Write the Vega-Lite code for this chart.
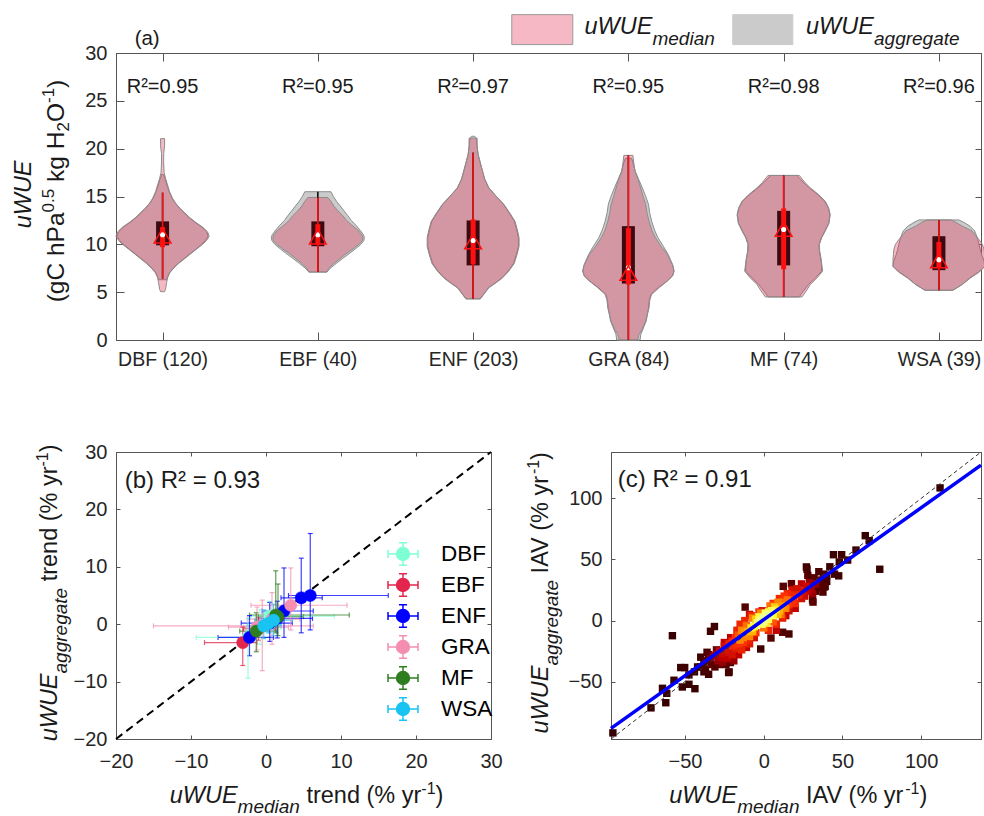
{
"$schema":"https://vega.github.io/schema/vega-lite/v6.json",
"background":"white",
"padding":{"left":11,"top":13,"right":0,"bottom":0},
"bounds":"flush",
"spacing":112,
"config":{
 "view":{"stroke":"#555555","strokeWidth":1},
 "axis":{"grid":false,"domainColor":"#555555","domainWidth":1,"tickColor":"#555555","tickWidth":1,"labelColor":"#262626","labelFont":"Liberation Sans","labelFontSize":20,"labelFlush":false,"labelOverlap":false,"labelBound":false},
 "text":{"font":"Liberation Sans","color":"#1a1a1a"}
},
"datasets":{
 "violin":[
  {"g":"DBF","s":"med","v":5.05,"w":0.013},{"g":"DBF","s":"med","v":5.3,"w":0.019},{"g":"DBF","s":"med","v":6.0,"w":0.026},{"g":"DBF","s":"med","v":6.5,"w":0.032},{"g":"DBF","s":"med","v":7.0,"w":0.045},{"g":"DBF","s":"med","v":7.5,"w":0.071},{"g":"DBF","s":"med","v":8.0,"w":0.103},{"g":"DBF","s":"med","v":8.5,"w":0.142},{"g":"DBF","s":"med","v":9.0,"w":0.18},{"g":"DBF","s":"med","v":9.5,"w":0.219},{"g":"DBF","s":"med","v":10.0,"w":0.258},{"g":"DBF","s":"med","v":10.4,"w":0.283},{"g":"DBF","s":"med","v":10.85,"w":0.3},{"g":"DBF","s":"med","v":11.3,"w":0.29},{"g":"DBF","s":"med","v":11.8,"w":0.258},{"g":"DBF","s":"med","v":12.3,"w":0.213},{"g":"DBF","s":"med","v":12.8,"w":0.174},{"g":"DBF","s":"med","v":13.3,"w":0.142},{"g":"DBF","s":"med","v":13.8,"w":0.11},{"g":"DBF","s":"med","v":14.3,"w":0.084},{"g":"DBF","s":"med","v":14.8,"w":0.064},{"g":"DBF","s":"med","v":15.5,"w":0.045},{"g":"DBF","s":"med","v":16.2,"w":0.032},{"g":"DBF","s":"med","v":16.9,"w":0.019},{"g":"DBF","s":"med","v":17.5,"w":0.01},{"g":"DBF","s":"med","v":18.5,"w":0.007},{"g":"DBF","s":"med","v":19.5,"w":0.007},{"g":"DBF","s":"med","v":20.3,"w":0.013},{"g":"DBF","s":"med","v":21.05,"w":0.013},
  {"g":"DBF","s":"agg","v":6.3,"w":0.026},{"g":"DBF","s":"agg","v":6.6,"w":0.032},{"g":"DBF","s":"agg","v":7.0,"w":0.043},{"g":"DBF","s":"agg","v":7.5,"w":0.068},{"g":"DBF","s":"agg","v":8.0,"w":0.1},{"g":"DBF","s":"agg","v":8.5,"w":0.138},{"g":"DBF","s":"agg","v":9.0,"w":0.176},{"g":"DBF","s":"agg","v":9.5,"w":0.215},{"g":"DBF","s":"agg","v":10.0,"w":0.252},{"g":"DBF","s":"agg","v":10.4,"w":0.277},{"g":"DBF","s":"agg","v":10.85,"w":0.293},{"g":"DBF","s":"agg","v":11.3,"w":0.284},{"g":"DBF","s":"agg","v":11.8,"w":0.253},{"g":"DBF","s":"agg","v":12.3,"w":0.209},{"g":"DBF","s":"agg","v":12.8,"w":0.171},{"g":"DBF","s":"agg","v":13.3,"w":0.139},{"g":"DBF","s":"agg","v":13.8,"w":0.108},{"g":"DBF","s":"agg","v":14.3,"w":0.082},{"g":"DBF","s":"agg","v":14.8,"w":0.062},{"g":"DBF","s":"agg","v":15.5,"w":0.043},{"g":"DBF","s":"agg","v":16.2,"w":0.028},{"g":"DBF","s":"agg","v":16.9,"w":0.015},{"g":"DBF","s":"agg","v":17.3,"w":0.006},
  {"g":"EBF","s":"med","v":7.1,"w":0.058},{"g":"EBF","s":"med","v":7.5,"w":0.071},{"g":"EBF","s":"med","v":8.0,"w":0.103},{"g":"EBF","s":"med","v":8.5,"w":0.142},{"g":"EBF","s":"med","v":9.0,"w":0.18},{"g":"EBF","s":"med","v":9.5,"w":0.225},{"g":"EBF","s":"med","v":10.0,"w":0.264},{"g":"EBF","s":"med","v":10.4,"w":0.287},{"g":"EBF","s":"med","v":10.7,"w":0.29},{"g":"EBF","s":"med","v":11.0,"w":0.283},{"g":"EBF","s":"med","v":11.5,"w":0.258},{"g":"EBF","s":"med","v":12.0,"w":0.219},{"g":"EBF","s":"med","v":12.5,"w":0.185},{"g":"EBF","s":"med","v":13.0,"w":0.161},{"g":"EBF","s":"med","v":13.5,"w":0.129},{"g":"EBF","s":"med","v":14.0,"w":0.103},{"g":"EBF","s":"med","v":14.5,"w":0.084},{"g":"EBF","s":"med","v":14.9,"w":0.064},
  {"g":"EBF","s":"agg","v":7.1,"w":0.058},{"g":"EBF","s":"agg","v":7.5,"w":0.08},{"g":"EBF","s":"agg","v":8.0,"w":0.118},{"g":"EBF","s":"agg","v":8.5,"w":0.158},{"g":"EBF","s":"agg","v":9.0,"w":0.2},{"g":"EBF","s":"agg","v":9.5,"w":0.24},{"g":"EBF","s":"agg","v":10.0,"w":0.277},{"g":"EBF","s":"agg","v":10.4,"w":0.296},{"g":"EBF","s":"agg","v":10.7,"w":0.3},{"g":"EBF","s":"agg","v":11.0,"w":0.294},{"g":"EBF","s":"agg","v":11.5,"w":0.271},{"g":"EBF","s":"agg","v":12.0,"w":0.245},{"g":"EBF","s":"agg","v":12.5,"w":0.215},{"g":"EBF","s":"agg","v":13.0,"w":0.193},{"g":"EBF","s":"agg","v":13.5,"w":0.168},{"g":"EBF","s":"agg","v":14.0,"w":0.145},{"g":"EBF","s":"agg","v":14.5,"w":0.12},{"g":"EBF","s":"agg","v":15.0,"w":0.1},{"g":"EBF","s":"agg","v":15.5,"w":0.084},
  {"g":"ENF","s":"med","v":4.3,"w":0.047},{"g":"ENF","s":"med","v":4.8,"w":0.07},{"g":"ENF","s":"med","v":5.46,"w":0.101},{"g":"ENF","s":"med","v":6.0,"w":0.15},{"g":"ENF","s":"med","v":6.5,"w":0.19},{"g":"ENF","s":"med","v":7.2,"w":0.23},{"g":"ENF","s":"med","v":8.0,"w":0.265},{"g":"ENF","s":"med","v":8.95,"w":0.283},{"g":"ENF","s":"med","v":9.8,"w":0.296},{"g":"ENF","s":"med","v":10.7,"w":0.296},{"g":"ENF","s":"med","v":11.5,"w":0.285},{"g":"ENF","s":"med","v":12.4,"w":0.27},{"g":"ENF","s":"med","v":13.3,"w":0.235},{"g":"ENF","s":"med","v":14.2,"w":0.197},{"g":"ENF","s":"med","v":15.0,"w":0.15},{"g":"ENF","s":"med","v":15.9,"w":0.101},{"g":"ENF","s":"med","v":16.8,"w":0.075},{"g":"ENF","s":"med","v":17.8,"w":0.058},{"g":"ENF","s":"med","v":18.6,"w":0.045},{"g":"ENF","s":"med","v":19.4,"w":0.032},{"g":"ENF","s":"med","v":20.2,"w":0.026},{"g":"ENF","s":"med","v":21.1,"w":0.026},
  {"g":"ENF","s":"agg","v":4.3,"w":0.045},{"g":"ENF","s":"agg","v":4.8,"w":0.068},{"g":"ENF","s":"agg","v":5.46,"w":0.098},{"g":"ENF","s":"agg","v":6.0,"w":0.146},{"g":"ENF","s":"agg","v":6.5,"w":0.186},{"g":"ENF","s":"agg","v":7.2,"w":0.226},{"g":"ENF","s":"agg","v":8.0,"w":0.26},{"g":"ENF","s":"agg","v":8.95,"w":0.279},{"g":"ENF","s":"agg","v":9.8,"w":0.292},{"g":"ENF","s":"agg","v":10.7,"w":0.292},{"g":"ENF","s":"agg","v":11.5,"w":0.281},{"g":"ENF","s":"agg","v":12.4,"w":0.266},{"g":"ENF","s":"agg","v":13.3,"w":0.232},{"g":"ENF","s":"agg","v":14.2,"w":0.195},{"g":"ENF","s":"agg","v":15.0,"w":0.15},{"g":"ENF","s":"agg","v":15.9,"w":0.101},{"g":"ENF","s":"agg","v":16.8,"w":0.075},{"g":"ENF","s":"agg","v":17.8,"w":0.058},{"g":"ENF","s":"agg","v":18.6,"w":0.045},{"g":"ENF","s":"agg","v":19.4,"w":0.032},{"g":"ENF","s":"agg","v":20.2,"w":0.026},{"g":"ENF","s":"agg","v":21.1,"w":0.02},{"g":"ENF","s":"agg","v":21.3,"w":0.01},
  {"g":"GRA","s":"med","v":0,"w":0.058},{"g":"GRA","s":"med","v":0.59,"w":0.069},{"g":"GRA","s":"med","v":1.0,"w":0.085},{"g":"GRA","s":"med","v":1.98,"w":0.111},{"g":"GRA","s":"med","v":3.37,"w":0.133},{"g":"GRA","s":"med","v":4.2,"w":0.138},{"g":"GRA","s":"med","v":4.77,"w":0.15},{"g":"GRA","s":"med","v":5.5,"w":0.2},{"g":"GRA","s":"med","v":6.16,"w":0.251},{"g":"GRA","s":"med","v":6.7,"w":0.285},{"g":"GRA","s":"med","v":7.2,"w":0.294},{"g":"GRA","s":"med","v":7.8,"w":0.285},{"g":"GRA","s":"med","v":8.95,"w":0.251},{"g":"GRA","s":"med","v":9.8,"w":0.21},{"g":"GRA","s":"med","v":10.7,"w":0.174},{"g":"GRA","s":"med","v":11.5,"w":0.15},{"g":"GRA","s":"med","v":12.4,"w":0.133},{"g":"GRA","s":"med","v":13.3,"w":0.12},{"g":"GRA","s":"med","v":14.2,"w":0.111},{"g":"GRA","s":"med","v":15.0,"w":0.095},{"g":"GRA","s":"med","v":15.9,"w":0.079},{"g":"GRA","s":"med","v":16.8,"w":0.062},{"g":"GRA","s":"med","v":17.6,"w":0.043},{"g":"GRA","s":"med","v":18.5,"w":0.035},{"g":"GRA","s":"med","v":19.3,"w":0.029},
  {"g":"GRA","s":"agg","v":0,"w":0.075},{"g":"GRA","s":"agg","v":0.59,"w":0.08},{"g":"GRA","s":"agg","v":1.98,"w":0.115},{"g":"GRA","s":"agg","v":3.37,"w":0.13},{"g":"GRA","s":"agg","v":4.2,"w":0.135},{"g":"GRA","s":"agg","v":4.77,"w":0.145},{"g":"GRA","s":"agg","v":5.5,"w":0.195},{"g":"GRA","s":"agg","v":6.16,"w":0.25},{"g":"GRA","s":"agg","v":6.7,"w":0.284},{"g":"GRA","s":"agg","v":7.2,"w":0.294},{"g":"GRA","s":"agg","v":7.8,"w":0.287},{"g":"GRA","s":"agg","v":8.95,"w":0.256},{"g":"GRA","s":"agg","v":9.8,"w":0.225},{"g":"GRA","s":"agg","v":10.7,"w":0.19},{"g":"GRA","s":"agg","v":11.5,"w":0.168},{"g":"GRA","s":"agg","v":12.4,"w":0.15},{"g":"GRA","s":"agg","v":13.3,"w":0.137},{"g":"GRA","s":"agg","v":14.2,"w":0.129},{"g":"GRA","s":"agg","v":15.0,"w":0.112},{"g":"GRA","s":"agg","v":15.9,"w":0.09},{"g":"GRA","s":"agg","v":16.8,"w":0.066},{"g":"GRA","s":"agg","v":17.6,"w":0.045},{"g":"GRA","s":"agg","v":18.5,"w":0.03},{"g":"GRA","s":"agg","v":19.0,"w":0.02},
  {"g":"MF","s":"med","v":4.5,"w":0.118},{"g":"MF","s":"med","v":5.0,"w":0.14},{"g":"MF","s":"med","v":5.8,"w":0.172},{"g":"MF","s":"med","v":6.5,"w":0.215},{"g":"MF","s":"med","v":7.2,"w":0.251},{"g":"MF","s":"med","v":8.0,"w":0.245},{"g":"MF","s":"med","v":8.6,"w":0.24},{"g":"MF","s":"med","v":9.3,"w":0.232},{"g":"MF","s":"med","v":10.0,"w":0.23},{"g":"MF","s":"med","v":10.7,"w":0.245},{"g":"MF","s":"med","v":11.4,"w":0.268},{"g":"MF","s":"med","v":12.2,"w":0.292},{"g":"MF","s":"med","v":13.1,"w":0.3},{"g":"MF","s":"med","v":13.8,"w":0.29},{"g":"MF","s":"med","v":14.5,"w":0.268},{"g":"MF","s":"med","v":15.2,"w":0.225},{"g":"MF","s":"med","v":15.9,"w":0.172},{"g":"MF","s":"med","v":16.5,"w":0.135},{"g":"MF","s":"med","v":17.2,"w":0.101},
  {"g":"MF","s":"agg","v":4.5,"w":0.1},{"g":"MF","s":"agg","v":5.0,"w":0.122},{"g":"MF","s":"agg","v":5.8,"w":0.16},{"g":"MF","s":"agg","v":6.5,"w":0.205},{"g":"MF","s":"agg","v":7.2,"w":0.245},{"g":"MF","s":"agg","v":8.0,"w":0.243},{"g":"MF","s":"agg","v":8.6,"w":0.238},{"g":"MF","s":"agg","v":9.3,"w":0.23},{"g":"MF","s":"agg","v":10.0,"w":0.228},{"g":"MF","s":"agg","v":10.7,"w":0.243},{"g":"MF","s":"agg","v":11.4,"w":0.266},{"g":"MF","s":"agg","v":12.2,"w":0.29},{"g":"MF","s":"agg","v":13.1,"w":0.298},{"g":"MF","s":"agg","v":13.8,"w":0.288},{"g":"MF","s":"agg","v":14.5,"w":0.265},{"g":"MF","s":"agg","v":15.2,"w":0.22},{"g":"MF","s":"agg","v":15.9,"w":0.165},{"g":"MF","s":"agg","v":16.5,"w":0.125},{"g":"MF","s":"agg","v":17.2,"w":0.085},
  {"g":"WSA","s":"med","v":5.2,"w":0.09},{"g":"WSA","s":"med","v":5.8,"w":0.15},{"g":"WSA","s":"med","v":6.5,"w":0.204},{"g":"WSA","s":"med","v":7.1,"w":0.26},{"g":"WSA","s":"med","v":7.7,"w":0.296},{"g":"WSA","s":"med","v":8.3,"w":0.296},{"g":"WSA","s":"med","v":8.95,"w":0.293},{"g":"WSA","s":"med","v":9.5,"w":0.29},{"g":"WSA","s":"med","v":10.0,"w":0.28},{"g":"WSA","s":"med","v":10.5,"w":0.258},{"g":"WSA","s":"med","v":11.0,"w":0.232},{"g":"WSA","s":"med","v":11.4,"w":0.213},{"g":"WSA","s":"med","v":11.9,"w":0.15},{"g":"WSA","s":"med","v":12.3,"w":0.11},{"g":"WSA","s":"med","v":12.55,"w":0.077},
  {"g":"WSA","s":"agg","v":5.2,"w":0.09},{"g":"WSA","s":"agg","v":5.8,"w":0.15},{"g":"WSA","s":"agg","v":6.5,"w":0.2},{"g":"WSA","s":"agg","v":7.1,"w":0.255},{"g":"WSA","s":"agg","v":7.7,"w":0.296},{"g":"WSA","s":"agg","v":8.3,"w":0.29},{"g":"WSA","s":"agg","v":8.95,"w":0.275},{"g":"WSA","s":"agg","v":9.5,"w":0.265},{"g":"WSA","s":"agg","v":10.0,"w":0.258},{"g":"WSA","s":"agg","v":10.5,"w":0.25},{"g":"WSA","s":"agg","v":11.0,"w":0.24},{"g":"WSA","s":"agg","v":11.4,"w":0.23},{"g":"WSA","s":"agg","v":11.9,"w":0.2},{"g":"WSA","s":"agg","v":12.3,"w":0.16},{"g":"WSA","s":"agg","v":12.55,"w":0.129}
 ],
 "stats":[
  {"g":"DBF","r2":"R²=0.95","lo":6.4,"hi":15.4,"alo":6.4,"ahi":15.4,"q1":9.9,"q3":12.4,"r1":9.7,"r3":11.8,"med":11.0,"mean":10.9},
  {"g":"EBF","r2":"R²=0.95","lo":7.1,"hi":14.9,"alo":7.1,"ahi":15.5,"q1":9.8,"q3":12.4,"r1":10.0,"r3":12.1,"med":11.0,"mean":10.8},
  {"g":"ENF","r2":"R²=0.97","lo":4.3,"hi":19.55,"alo":4.3,"ahi":19.6,"q1":7.8,"q3":12.5,"r1":7.9,"r3":12.6,"med":10.4,"mean":10.3},
  {"g":"GRA","r2":"R²=0.95","lo":0,"hi":19.3,"alo":0,"ahi":19.3,"q1":5.9,"q3":11.9,"r1":5.8,"r3":11.7,"med":7.55,"mean":7.0},
  {"g":"MF","r2":"R²=0.98","lo":4.5,"hi":17.2,"alo":4.5,"ahi":17.2,"q1":7.8,"q3":13.5,"r1":7.4,"r3":13.75,"med":11.55,"mean":11.6},
  {"g":"WSA","r2":"R²=0.96","lo":5.2,"hi":12.55,"alo":5.2,"ahi":12.55,"q1":7.3,"q3":10.85,"r1":7.55,"r3":10.25,"med":8.4,"mean":8.3}
 ],
 "trend":[
  {"g":"DBF","x":-2.4,"y":-2.3,"xlo":-9.3,"xhi":0.5,"ylo":-9.4,"yhi":1.0},
  {"g":"DBF","x":0.5,"y":1.4,"xlo":-2.0,"xhi":9.1,"ylo":-1.5,"yhi":4.0},
  {"g":"DBF","x":-0.8,"y":-0.5,"xlo":-3.0,"xhi":2.0,"ylo":-3.5,"yhi":2.5},
  {"g":"EBF","x":-3.1,"y":-3.2,"xlo":-8.2,"xhi":-1.2,"ylo":-7.2,"yhi":-0.5},
  {"g":"EBF","x":-1.0,"y":-0.8,"xlo":-3.0,"xhi":1.2,"ylo":-2.8,"yhi":1.2},
  {"g":"ENF","x":5.9,"y":5.0,"xlo":3.0,"xhi":16.3,"ylo":-1.0,"yhi":15.8},
  {"g":"ENF","x":4.7,"y":4.6,"xlo":2.0,"xhi":7.5,"ylo":-1.5,"yhi":11.5},
  {"g":"ENF","x":-2.2,"y":-2.3,"xlo":-6.4,"xhi":1.0,"ylo":-5.5,"yhi":1.5},
  {"g":"ENF","x":2.4,"y":2.3,"xlo":-0.5,"xhi":6.3,"ylo":-2.3,"yhi":9.8},
  {"g":"ENF","x":0.5,"y":0.2,"xlo":-3.3,"xhi":3.5,"ylo":-3.0,"yhi":3.8},
  {"g":"ENF","x":1.5,"y":1.0,"xlo":-1.0,"xhi":6.2,"ylo":-2.4,"yhi":4.0},
  {"g":"GRA","x":3.3,"y":3.3,"xlo":-2.0,"xhi":10.8,"ylo":-1.0,"yhi":9.8},
  {"g":"GRA","x":-0.5,"y":-0.3,"xlo":-15.0,"xhi":6.3,"ylo":-8.1,"yhi":4.2},
  {"g":"GRA","x":-1.2,"y":-0.5,"xlo":-5.0,"xhi":3.0,"ylo":-4.5,"yhi":3.0},
  {"g":"GRA","x":0.8,"y":0.9,"xlo":-2.5,"xhi":4.5,"ylo":-3.5,"yhi":5.5},
  {"g":"MF","x":1.3,"y":1.6,"xlo":-2.2,"xhi":11.1,"ylo":-1.5,"yhi":9.3},
  {"g":"MF","x":-1.3,"y":-1.2,"xlo":-3.5,"xhi":1.5,"ylo":-4.8,"yhi":2.0},
  {"g":"MF","x":1.6,"y":1.3,"xlo":-1.0,"xhi":5.0,"ylo":-2.0,"yhi":7.0},
  {"g":"WSA","x":1.0,"y":0.7,"xlo":-1.5,"xhi":3.5,"ylo":-2.0,"yhi":3.5},
  {"g":"WSA","x":-0.3,"y":-0.3,"xlo":-2.5,"xhi":2.0,"ylo":-2.5,"yhi":2.5},
  {"g":"WSA","x":0.3,"y":0.1,"xlo":-1.5,"xhi":2.0,"ylo":-1.5,"yhi":2.0}
 ],
 "iav":[
  {"m":-2,"a":0,"d":1},{"m":0,"a":2,"d":1},{"m":2,"a":4,"d":1},{"m":4,"a":5,"d":0.95},{"m":-4,"a":-2,"d":0.95},{"m":1,"a":6,"d":0.9},{"m":3,"a":1,"d":0.9},{"m":-1,"a":-3,"d":0.9},{"m":5,"a":8,"d":0.9},{"m":-6,"a":-5,"d":0.85},{"m":6,"a":4,"d":0.85},{"m":-3,"a":3,"d":0.85},{"m":8,"a":9,"d":0.8},{"m":-8,"a":-6,"d":0.8},{"m":7,"a":11,"d":0.75},{"m":2,"a":-2,"d":0.8},{"m":-5,"a":1,"d":0.75},{"m":10,"a":8,"d":0.7},{"m":-10,"a":-9,"d":0.7},{"m":0,"a":-1,"d":0.95},{"m":3,"a":7,"d":0.85},{"m":-7,"a":-9,"d":0.7},{"m":9,"a":5,"d":0.7},
  {"m":-12,"a":-10,"d":0.65},{"m":-9,"a":-13,"d":0.6},{"m":-14,"a":-8,"d":0.6},{"m":12,"a":12,"d":0.65},{"m":9,"a":15,"d":0.6},{"m":14,"a":10,"d":0.6},{"m":-7,"a":2,"d":0.6},{"m":4,"a":12,"d":0.55},{"m":11,"a":5,"d":0.55},{"m":-11,"a":-4,"d":0.55},{"m":-15,"a":-16,"d":0.6},{"m":15,"a":17,"d":0.55},{"m":0,"a":-6,"d":0.55},{"m":-2,"a":6,"d":0.6},{"m":6,"a":-1,"d":0.5},{"m":-16,"a":-12,"d":0.5},{"m":13,"a":15,"d":0.55},{"m":-13,"a":-14,"d":0.6},
  {"m":-13,"a":-18,"d":0.45},{"m":-18,"a":-14,"d":0.45},{"m":-17,"a":-19,"d":0.45},{"m":16,"a":13,"d":0.45},{"m":18,"a":17,"d":0.45},{"m":13,"a":20,"d":0.45},{"m":-8,"a":4,"d":0.4},{"m":-12,"a":0,"d":0.4},{"m":-10,"a":-16,"d":0.4},{"m":10,"a":18,"d":0.4},{"m":-15,"a":-3,"d":0.4},{"m":8,"a":-3,"d":0.4},{"m":17,"a":21,"d":0.4},{"m":-20,"a":-17,"d":0.42},{"m":20,"a":14,"d":0.42},{"m":3,"a":-8,"d":0.4},{"m":-3,"a":7,"d":0.4},{"m":-5,"a":-10,"d":0.45},{"m":6,"a":14,"d":0.45},{"m":-19,"a":-21,"d":0.4},{"m":19,"a":19,"d":0.4},{"m":12,"a":2,"d":0.38},{"m":-14,"a":-24,"d":0.38},{"m":-22,"a":-19,"d":0.38},{"m":22,"a":21,"d":0.38},{"m":-17,"a":-8,"d":0.38},{"m":15,"a":22,"d":0.4},{"m":-9,"a":-19,"d":0.35},
  {"m":-22,"a":-26,"d":0.3},{"m":-25,"a":-21,"d":0.3},{"m":-24,"a":-24,"d":0.32},{"m":-20,"a":-28,"d":0.3},{"m":24,"a":18,"d":0.3},{"m":25,"a":24,"d":0.3},{"m":21,"a":26,"d":0.3},{"m":23,"a":22,"d":0.32},{"m":-18,"a":-23,"d":0.35},{"m":-26,"a":-27,"d":0.28},{"m":-28,"a":-25,"d":0.28},{"m":-27,"a":-30,"d":0.25},{"m":26,"a":20,"d":0.28},{"m":27,"a":28,"d":0.28},{"m":28,"a":24,"d":0.25},{"m":-23,"a":-31,"d":0.25},{"m":24,"a":30,"d":0.25},{"m":-30,"a":-28,"d":0.22},{"m":-29,"a":-33,"d":0.2},{"m":-32,"a":-29,"d":0.2},{"m":30,"a":26,"d":0.22},{"m":29,"a":31,"d":0.2},{"m":31,"a":22,"d":0.2},{"m":-25,"a":-18,"d":0.25},{"m":-21,"a":-14,"d":0.25},{"m":18,"a":25,"d":0.3},{"m":16,"a":8,"d":0.3},{"m":-6,"a":-14,"d":0.3},{"m":-16,"a":-28,"d":0.25},{"m":20,"a":10,"d":0.25},{"m":-11,"a":-22,"d":0.25},{"m":-1,"a":8,"d":0.3},{"m":8,"a":-8,"d":0.25},{"m":14,"a":4,"d":0.25},{"m":-9,"a":5,"d":0.28},{"m":-26,"a":-34,"d":0.2},{"m":-19,"a":-33,"d":0.2},{"m":33,"a":30,"d":0.2},
  {"m":-34,"a":-31,"d":0.15},{"m":-33,"a":-36,"d":0.12},{"m":-36,"a":-33,"d":0.12},{"m":-35,"a":-28,"d":0.1},{"m":-31,"a":-38,"d":0.1},{"m":-38,"a":-35,"d":0.08},{"m":-37,"a":-40,"d":0.08},{"m":-40,"a":-38,"d":0.05},{"m":-30,"a":-24,"d":0.15},{"m":-28,"a":-36,"d":0.12},{"m":-24,"a":-36,"d":0.12},{"m":34,"a":33,"d":0.12},{"m":35,"a":27,"d":0.1},{"m":32,"a":35,"d":0.12},{"m":36,"a":30,"d":0.1},{"m":38,"a":38,"d":0.08},{"m":33,"a":24,"d":0.1},{"m":37,"a":33,"d":0.08},{"m":40,"a":37,"d":0.05},{"m":31,"a":17,"d":0.1},{"m":39,"a":28,"d":0.05},{"m":28,"a":37,"d":0.1},{"m":-22,"a":-42,"d":0.06},
  {"m":112,"a":108.6,"d":0},{"m":64.5,"a":69.5,"d":0},{"m":67,"a":65.4,"d":0.02},{"m":58.6,"a":57.7,"d":0.03},{"m":73.7,"a":42,"d":0},{"m":44.3,"a":53.9,"d":0.03},{"m":49.5,"a":53.9,"d":0.03},{"m":48,"a":48,"d":0.05},{"m":53.3,"a":49.5,"d":0.04},{"m":47.6,"a":36.6,"d":0.04},{"m":27.5,"a":42,"d":0.06},{"m":-58,"a":-12.4,"d":0},{"m":-33.8,"a":-8.8,"d":0.05},{"m":-31.3,"a":-4.9,"d":0.04},{"m":-11.8,"a":11,"d":0.1},{"m":-52.7,"a":-38.5,"d":0.03},{"m":-50.2,"a":-38.5,"d":0.03},{"m":-57,"a":-48.9,"d":0.02},{"m":-64.3,"a":-55.5,"d":0.01},{"m":-61.6,"a":-59.6,"d":0.01},{"m":-62.2,"a":-67.3,"d":0},{"m":-71.6,"a":-71.5,"d":0},{"m":-51.7,"a":-54.4,"d":0.02},{"m":-47.5,"a":-52.2,"d":0.02},{"m":-43.7,"a":-55.8,"d":0.01},{"m":-47.5,"a":-44.5,"d":0.03},{"m":-95.8,"a":-92,"d":0},{"m":-1.9,"a":-23.3,"d":0.05},{"m":16,"a":-11,"d":0.08},{"m":12,"a":-9.6,"d":0.1},{"m":4.6,"a":-14.3,"d":0.12},{"m":-22.3,"a":-42.6,"d":0.05},{"m":-21.2,"a":-34.4,"d":0.08},{"m":-12.8,"a":-12.4,"d":0.15},{"m":37.6,"a":23.3,"d":0.1},{"m":38.6,"a":27.5,"d":0.1},{"m":31.3,"a":15.1,"d":0.12},{"m":27.1,"a":43.9,"d":0.05},{"m":12.4,"a":28,"d":0.12},{"m":17.6,"a":30.2,"d":0.12},{"m":42,"a":44,"d":0.05},{"m":40,"a":32,"d":0.06},{"m":35,"a":40,"d":0.08},{"m":45,"a":38,"d":0.04},{"m":-40,"a":-30,"d":0.05},{"m":-42,"a":-38,"d":0.04},{"m":-38,"a":-42,"d":0.06},{"m":-44,"a":-42,"d":0.03},{"m":-36,"a":-26,"d":0.08},{"m":-35,"a":-44,"d":0.05}
 ]
},
"vconcat":[
 {
  "width":865,"height":287,
  "data":{"values":[{"k":1}]},
  "resolve":{"axis":{"x":"independent","y":"independent"}},
  "layer":[
   {"data":{"name":"violin"},
    "transform":[{"filter":"datum.s == 'agg'"},{"calculate":"indexof(['DBF','EBF','ENF','GRA','MF','WSA'], datum.g) + 1 - datum.w","as":"xl"},{"calculate":"indexof(['DBF','EBF','ENF','GRA','MF','WSA'], datum.g) + 1 + datum.w","as":"xr"}],
    "mark":{"type":"area","orient":"horizontal","fill":"#cbcbcb","stroke":"#8c8c8c","strokeWidth":1},
    "encoding":{
     "x":{"field":"xl","type":"quantitative","scale":{"domain":[0.7,6.271],"nice":false,"zero":false},"axis":{"orient":"bottom","values":[1,2,3,4,5,6],"tickSize":-8,"labelPadding":18,"labelFontSize":19.5,"labelExpr":"['','DBF (120)','EBF (40)','ENF (203)','GRA (84)','MF (74)','WSA (39)'][datum.value]","title":null}},
     "x2":{"field":"xr"},
     "y":{"field":"v","type":"quantitative","scale":{"domain":[0,30],"nice":false,"zero":false},"axis":{"orient":"left","values":[0,5,10,15,20,25,30],"tickSize":-8,"labelPadding":17,"title":null}},
     "detail":{"field":"g"}
    }},
   {"data":{"name":"violin"},
    "transform":[{"filter":"datum.s == 'med'"},{"calculate":"indexof(['DBF','EBF','ENF','GRA','MF','WSA'], datum.g) + 1 - datum.w","as":"xl"},{"calculate":"indexof(['DBF','EBF','ENF','GRA','MF','WSA'], datum.g) + 1 + datum.w","as":"xr"}],
    "mark":{"type":"area","orient":"horizontal","fill":"#e13154","fillOpacity":0.34,"stroke":"#8c8c8c","strokeWidth":1},
    "encoding":{
     "x":{"field":"xl","type":"quantitative","scale":{"domain":[0.7,6.271],"nice":false,"zero":false},"axis":{"orient":"top","values":[1,2,3,4,5,6],"tickSize":-8,"labels":false,"title":null}},
     "x2":{"field":"xr"},
     "y":{"field":"v","type":"quantitative","scale":{"domain":[0,30],"nice":false,"zero":false},"axis":{"orient":"right","values":[0,5,10,15,20,25,30],"tickSize":-6,"labels":false,"title":null}},
     "detail":{"field":"g"}
    }},
   {"data":{"name":"stats"},"transform":[{"calculate":"indexof(['DBF','EBF','ENF','GRA','MF','WSA'], datum.g) + 1","as":"p"}],
    "mark":{"type":"rule","color":"#000000","strokeWidth":1.5},
    "encoding":{"x":{"field":"p","type":"quantitative","axis":null},"y":{"field":"alo","type":"quantitative","axis":null},"y2":{"field":"ahi"}}},
   {"data":{"name":"stats"},"transform":[{"calculate":"indexof(['DBF','EBF','ENF','GRA','MF','WSA'], datum.g) + 1","as":"p"}],
    "mark":{"type":"rule","color":"#3b0a10","strokeWidth":13},
    "encoding":{"x":{"field":"p","type":"quantitative","axis":null},"y":{"field":"q1","type":"quantitative","axis":null},"y2":{"field":"q3"}}},
   {"data":{"name":"stats"},"transform":[{"calculate":"indexof(['DBF','EBF','ENF','GRA','MF','WSA'], datum.g) + 1","as":"p"}],
    "mark":{"type":"rule","color":"#ff1010","strokeWidth":1.5},
    "encoding":{"x":{"field":"p","type":"quantitative","axis":null},"y":{"field":"lo","type":"quantitative","axis":null},"y2":{"field":"hi"}}},
   {"data":{"name":"stats"},"transform":[{"calculate":"indexof(['DBF','EBF','ENF','GRA','MF','WSA'], datum.g) + 1","as":"p"}],
    "mark":{"type":"rule","color":"#ff1010","strokeWidth":5},
    "encoding":{"x":{"field":"p","type":"quantitative","axis":null},"y":{"field":"r1","type":"quantitative","axis":null},"y2":{"field":"r3"}}},
   {"data":{"name":"stats"},"transform":[{"calculate":"indexof(['DBF','EBF','ENF','GRA','MF','WSA'], datum.g) + 1","as":"p"}],
    "mark":{"type":"point","shape":"circle","filled":true,"fill":"#ffffff","size":26,"opacity":1},
    "encoding":{"x":{"field":"p","type":"quantitative","axis":null},"y":{"field":"med","type":"quantitative","axis":null}}},
   {"data":{"name":"stats"},"transform":[{"calculate":"indexof(['DBF','EBF','ENF','GRA','MF','WSA'], datum.g) + 1","as":"p"}],
    "mark":{"type":"point","shape":"triangle-up","filled":false,"fill":"transparent","stroke":"#ff1010","strokeWidth":1.5,"size":280,"opacity":1},
    "encoding":{"x":{"field":"p","type":"quantitative","axis":null},"y":{"field":"mean","type":"quantitative","axis":null}}},
   {"data":{"name":"stats"},"transform":[{"calculate":"indexof(['DBF','EBF','ENF','GRA','MF','WSA'], datum.g) + 1","as":"p"}],
    "mark":{"type":"text","fontSize":20,"align":"center","baseline":"alphabetic"},
    "encoding":{"x":{"field":"p","type":"quantitative","axis":null},"y":{"datum":25.82,"type":"quantitative","axis":null},"text":{"field":"r2"}}},
   {"mark":{"type":"text","text":"(a)","fontSize":20.5,"align":"left","baseline":"alphabetic"},
    "encoding":{"x":{"datum":0.82,"type":"quantitative","axis":null},"y":{"datum":30.8,"type":"quantitative","axis":null}}},
   {"mark":{"type":"rect","fill":"#f5b8c4","stroke":"#9a9a9a","strokeWidth":1},
    "encoding":{"x":{"datum":3.249,"type":"quantitative","axis":null},"x2":{"datum":3.642},"y":{"datum":34.01,"type":"quantitative","axis":null},"y2":{"datum":30.88}}},
   {"mark":{"type":"rect","fill":"#cbcbcb","stroke":"#cbcbcb","strokeWidth":1},
    "encoding":{"x":{"datum":4.672,"type":"quantitative","axis":null},"x2":{"datum":5.059},"y":{"datum":34.01,"type":"quantitative","axis":null},"y2":{"datum":30.88}}},
   {"mark":{"type":"text","text":"uWUE","fontSize":23.5,"fontStyle":"italic","align":"left","baseline":"alphabetic"},
    "encoding":{"x":{"datum":3.717,"type":"quantitative","axis":null},"y":{"datum":32.02,"type":"quantitative","axis":null}}},
   {"mark":{"type":"text","text":"median","fontSize":19,"fontStyle":"italic","align":"left","baseline":"alphabetic","dx":68,"dy":11},
    "encoding":{"x":{"datum":3.717,"type":"quantitative","axis":null},"y":{"datum":32.02,"type":"quantitative","axis":null}}},
   {"mark":{"type":"text","text":"uWUE","fontSize":23.5,"fontStyle":"italic","align":"left","baseline":"alphabetic"},
    "encoding":{"x":{"datum":5.144,"type":"quantitative","axis":null},"y":{"datum":32.02,"type":"quantitative","axis":null}}},
   {"mark":{"type":"text","text":"aggregate","fontSize":19,"fontStyle":"italic","align":"left","baseline":"alphabetic","dx":68,"dy":11},
    "encoding":{"x":{"datum":5.144,"type":"quantitative","axis":null},"y":{"datum":32.02,"type":"quantitative","axis":null}}},
   {"mark":{"type":"text","text":"uWUE","fontSize":23.5,"fontStyle":"italic","align":"left","baseline":"alphabetic","angle":270},
    "encoding":{"x":{"datum":0.1525,"type":"quantitative","axis":null},"y":{"datum":11.67,"type":"quantitative","axis":null}}},
   {"mark":{"type":"text","text":"(gC hPa","fontSize":24.5,"align":"left","baseline":"alphabetic","angle":270},
    "encoding":{"x":{"datum":0.363,"type":"quantitative","axis":null},"y":{"datum":3.94,"type":"quantitative","axis":null}}},
   {"mark":{"type":"text","text":"0.5","fontSize":17,"align":"left","baseline":"alphabetic","angle":270,"dx":89.9,"dy":-10},
    "encoding":{"x":{"datum":0.363,"type":"quantitative","axis":null},"y":{"datum":3.94,"type":"quantitative","axis":null}}},
   {"mark":{"type":"text","text":"kg H","fontSize":24.5,"align":"left","baseline":"alphabetic","angle":270,"dx":120.3},
    "encoding":{"x":{"datum":0.363,"type":"quantitative","axis":null},"y":{"datum":3.94,"type":"quantitative","axis":null}}},
   {"mark":{"type":"text","text":"2","fontSize":17,"align":"left","baseline":"alphabetic","angle":270,"dx":170.7,"dy":5},
    "encoding":{"x":{"datum":0.363,"type":"quantitative","axis":null},"y":{"datum":3.94,"type":"quantitative","axis":null}}},
   {"mark":{"type":"text","text":"O","fontSize":24.5,"align":"left","baseline":"alphabetic","angle":270,"dx":180.2},
    "encoding":{"x":{"datum":0.363,"type":"quantitative","axis":null},"y":{"datum":3.94,"type":"quantitative","axis":null}}},
   {"mark":{"type":"text","text":"-1","fontSize":17,"align":"left","baseline":"alphabetic","angle":270,"dx":199.3,"dy":-10},
    "encoding":{"x":{"datum":0.363,"type":"quantitative","axis":null},"y":{"datum":3.94,"type":"quantitative","axis":null}}},
   {"mark":{"type":"text","text":")","fontSize":24.5,"align":"left","baseline":"alphabetic","angle":270,"dx":214.4},
    "encoding":{"x":{"datum":0.363,"type":"quantitative","axis":null},"y":{"datum":3.94,"type":"quantitative","axis":null}}}
  ]
 },
 {
  "hconcat":[
   {
    "width":375,"height":287,
    "data":{"values":[{"k":1}]},
    "resolve":{"axis":{"x":"independent","y":"independent"}},
    "layer":[
     {"mark":{"type":"rule","color":"#000000","strokeWidth":2,"strokeDash":[8,5]},
      "encoding":{
       "x":{"datum":-20,"type":"quantitative","scale":{"domain":[-20,30],"nice":false,"zero":false},"axis":{"orient":"top","values":[-20,-10,0,10,20,30],"tickSize":-4,"labels":false,"title":null}},
       "x2":{"datum":30},
       "y":{"datum":-20,"type":"quantitative","scale":{"domain":[-20,30],"nice":false,"zero":false},"axis":{"orient":"right","values":[-20,-10,0,10,20,30],"tickSize":-4,"labels":false,"title":null}},
       "y2":{"datum":30}}},
     {"data":{"name":"trend"},
      "mark":{"type":"errorbar","ticks":true,"opacity":0.75,"thickness":1.2},
      "encoding":{"x":{"field":"xlo","type":"quantitative","axis":null},"x2":{"field":"xhi"},"y":{"field":"y","type":"quantitative","axis":null},
       "color":{"field":"g","type":"nominal","scale":{"domain":["DBF","EBF","ENF","GRA","MF","WSA"],"range":["#7fffd4","#e3264d","#0000ff","#f48fb1","#2e7d1f","#19c3f2"]},"legend":null}}},
     {"data":{"name":"trend"},
      "mark":{"type":"errorbar","ticks":true,"opacity":0.75,"thickness":1.2},
      "encoding":{"y":{"field":"ylo","type":"quantitative","axis":null},"y2":{"field":"yhi"},"x":{"field":"x","type":"quantitative","axis":null},
       "color":{"field":"g","type":"nominal","scale":{"domain":["DBF","EBF","ENF","GRA","MF","WSA"],"range":["#7fffd4","#e3264d","#0000ff","#f48fb1","#2e7d1f","#19c3f2"]},"legend":null}}},
     {"data":{"name":"trend"},
      "mark":{"type":"point","shape":"circle","filled":true,"size":150,"strokeWidth":0.5,"opacity":1},
      "encoding":{
       "x":{"field":"x","type":"quantitative","scale":{"domain":[-20,30],"nice":false,"zero":false},"axis":{"orient":"bottom","values":[-20,-10,0,10,20,30],"tickSize":-4,"labelPadding":16,"title":null}},
       "y":{"field":"y","type":"quantitative","scale":{"domain":[-20,30],"nice":false,"zero":false},"axis":{"orient":"left","values":[-20,-10,0,10,20,30],"tickSize":-4,"labelPadding":13,"title":null}},
       "fill":{"field":"g","type":"nominal","scale":{"domain":["DBF","EBF","ENF","GRA","MF","WSA"],"range":["#7fffd4","#e3264d","#0000ff","#f48fb1","#2e7d1f","#19c3f2"]},
        "legend":{"orient":"none","legendX":271,"legendY":485,"title":null,"symbolType":"M-1,0H1M-1,-0.27V0.27M1,-0.27V0.27M0,-0.75V0.75M-0.27,-0.75H0.27M-0.27,0.75H0.27M-0.43,0A0.43,0.43,0,1,0,0.43,0A0.43,0.43,0,1,0,-0.43,0Z","symbolSize":900,"symbolStrokeWidth":1.5,"labelFontSize":22.5,"labelFont":"Liberation Sans","labelColor":"#000000","labelOffset":22,"rowPadding":0,"padding":0,"symbolOpacity":1}},
       "stroke":{"field":"g","type":"nominal","scale":{"domain":["DBF","EBF","ENF","GRA","MF","WSA"],"range":["#7fffd4","#e3264d","#0000ff","#f48fb1","#2e7d1f","#19c3f2"]},
        "legend":{"orient":"none","legendX":271,"legendY":485,"title":null,"symbolType":"M-1,0H1M-1,-0.27V0.27M1,-0.27V0.27M0,-0.75V0.75M-0.27,-0.75H0.27M-0.27,0.75H0.27M-0.43,0A0.43,0.43,0,1,0,0.43,0A0.43,0.43,0,1,0,-0.43,0Z","symbolSize":900,"symbolStrokeWidth":1.5,"labelFontSize":22.5,"labelFont":"Liberation Sans","labelColor":"#000000","labelOffset":22,"rowPadding":0,"padding":0,"symbolOpacity":1}}
      }},
     {"mark":{"type":"text","text":"(b) R² = 0.93","fontSize":24,"align":"left","baseline":"alphabetic"},
      "encoding":{"x":{"datum":-18.84,"type":"quantitative","axis":null},"y":{"datum":23.77,"type":"quantitative","axis":null}}},
     {"mark":{"type":"text","text":"uWUE","fontSize":23.5,"fontStyle":"italic","align":"left","baseline":"alphabetic"},
      "encoding":{"x":{"datum":-12.84,"type":"quantitative","axis":null},"y":{"datum":-31.17,"type":"quantitative","axis":null}}},
     {"mark":{"type":"text","text":"median","fontSize":19,"fontStyle":"italic","align":"left","baseline":"alphabetic","dx":67.9,"dy":10},
      "encoding":{"x":{"datum":-12.84,"type":"quantitative","axis":null},"y":{"datum":-31.17,"type":"quantitative","axis":null}}},
     {"mark":{"type":"text","text":"trend (% yr","fontSize":23.5,"align":"left","baseline":"alphabetic","dx":136.7},
      "encoding":{"x":{"datum":-12.84,"type":"quantitative","axis":null},"y":{"datum":-31.17,"type":"quantitative","axis":null}}},
     {"mark":{"type":"text","text":"-1","fontSize":16,"align":"left","baseline":"alphabetic","dx":251.6,"dy":-9},
      "encoding":{"x":{"datum":-12.84,"type":"quantitative","axis":null},"y":{"datum":-31.17,"type":"quantitative","axis":null}}},
     {"mark":{"type":"text","text":")","fontSize":23.5,"align":"left","baseline":"alphabetic","dx":265.8},
      "encoding":{"x":{"datum":-12.84,"type":"quantitative","axis":null},"y":{"datum":-31.17,"type":"quantitative","axis":null}}},
     {"mark":{"type":"text","text":"uWUE","fontSize":23.5,"fontStyle":"italic","align":"left","baseline":"alphabetic","angle":270},
      "encoding":{"x":{"datum":-27.87,"type":"quantitative","axis":null},"y":{"datum":-20.41,"type":"quantitative","axis":null}}},
     {"mark":{"type":"text","text":"aggregate","fontSize":19,"fontStyle":"italic","align":"left","baseline":"alphabetic","angle":270,"dx":67.9,"dy":10},
      "encoding":{"x":{"datum":-27.87,"type":"quantitative","axis":null},"y":{"datum":-20.41,"type":"quantitative","axis":null}}},
     {"mark":{"type":"text","text":"trend (% yr","fontSize":23.5,"align":"left","baseline":"alphabetic","angle":270,"dx":160},
      "encoding":{"x":{"datum":-27.87,"type":"quantitative","axis":null},"y":{"datum":-20.41,"type":"quantitative","axis":null}}},
     {"mark":{"type":"text","text":"-1","fontSize":16,"align":"left","baseline":"alphabetic","angle":270,"dx":274.9,"dy":-9},
      "encoding":{"x":{"datum":-27.87,"type":"quantitative","axis":null},"y":{"datum":-20.41,"type":"quantitative","axis":null}}},
     {"mark":{"type":"text","text":")","fontSize":23.5,"align":"left","baseline":"alphabetic","angle":270,"dx":289.1},
      "encoding":{"x":{"datum":-27.87,"type":"quantitative","axis":null},"y":{"datum":-20.41,"type":"quantitative","axis":null}}}
    ]
   },
   {
    "width":370,"height":287,
    "data":{"values":[{"k":1}]},
    "resolve":{"axis":{"x":"independent","y":"independent"}},
    "layer":[
     {"data":{"name":"iav"},
      "mark":{"type":"square","size":55,"opacity":1},
      "encoding":{
       "x":{"field":"m","type":"quantitative","scale":{"domain":[-97,138],"nice":false,"zero":false},"axis":{"orient":"bottom","values":[-50,0,50,100],"tickSize":-4,"labelPadding":16,"title":null}},
       "y":{"field":"a","type":"quantitative","scale":{"domain":[-97,138],"nice":false,"zero":false},"axis":{"orient":"left","values":[-50,0,50,100],"tickSize":-4,"labelPadding":13,"title":null}},
       "color":{"field":"d","type":"quantitative","scale":{"domain":[0,0.12,0.25,0.45,0.65,0.85],"range":["#000000","#5a0000","#c00000","#ff3000","#ff9a00","#ffff40"]},"legend":null},
       "order":{"field":"d","type":"quantitative","sort":"ascending"}
      }},
     {"mark":{"type":"rule","color":"#333333","strokeWidth":1,"strokeDash":[4,3]},
      "encoding":{
       "x":{"datum":-97,"type":"quantitative","scale":{"domain":[-97,138],"nice":false,"zero":false},"axis":{"orient":"top","values":[-50,0,50,100],"tickSize":-4,"labels":false,"title":null}},
       "x2":{"datum":138},
       "y":{"datum":-97,"type":"quantitative","scale":{"domain":[-97,138],"nice":false,"zero":false},"axis":{"orient":"right","values":[-50,0,50,100],"tickSize":-4,"labels":false,"title":null}},
       "y2":{"datum":138}}},
     {"mark":{"type":"rule","color":"#0000ff","strokeWidth":3.5},
      "encoding":{"x":{"datum":-97,"type":"quantitative","axis":null},"x2":{"datum":138},"y":{"datum":-88.25,"type":"quantitative","axis":null},"y2":{"datum":127.2}}},
     {"mark":{"type":"text","text":"(c) R² = 0.91","fontSize":24,"align":"left","baseline":"alphabetic"},
      "encoding":{"x":{"datum":-92.7,"type":"quantitative","axis":null},"y":{"datum":109.2,"type":"quantitative","axis":null}}},
     {"mark":{"type":"text","text":"uWUE","fontSize":23.5,"fontStyle":"italic","align":"left","baseline":"alphabetic"},
      "encoding":{"x":{"datum":-60,"type":"quantitative","axis":null},"y":{"datum":-149.6,"type":"quantitative","axis":null}}},
     {"mark":{"type":"text","text":"median","fontSize":19,"fontStyle":"italic","align":"left","baseline":"alphabetic","dx":67.9,"dy":10},
      "encoding":{"x":{"datum":-60,"type":"quantitative","axis":null},"y":{"datum":-149.6,"type":"quantitative","axis":null}}},
     {"mark":{"type":"text","text":"IAV (% yr","fontSize":23.5,"align":"left","baseline":"alphabetic","dx":136.7},
      "encoding":{"x":{"datum":-60,"type":"quantitative","axis":null},"y":{"datum":-149.6,"type":"quantitative","axis":null}}},
     {"mark":{"type":"text","text":"-1","fontSize":16,"align":"left","baseline":"alphabetic","dx":236,"dy":-9},
      "encoding":{"x":{"datum":-60,"type":"quantitative","axis":null},"y":{"datum":-149.6,"type":"quantitative","axis":null}}},
     {"mark":{"type":"text","text":")","fontSize":23.5,"align":"left","baseline":"alphabetic","dx":250.2},
      "encoding":{"x":{"datum":-60,"type":"quantitative","axis":null},"y":{"datum":-149.6,"type":"quantitative","axis":null}}},
     {"mark":{"type":"text","text":"uWUE","fontSize":23.5,"fontStyle":"italic","align":"left","baseline":"alphabetic","angle":270},
      "encoding":{"x":{"datum":-137.1,"type":"quantitative","axis":null},"y":{"datum":-92.4,"type":"quantitative","axis":null}}},
     {"mark":{"type":"text","text":"aggregate","fontSize":19,"fontStyle":"italic","align":"left","baseline":"alphabetic","angle":270,"dx":67.9,"dy":10},
      "encoding":{"x":{"datum":-137.1,"type":"quantitative","axis":null},"y":{"datum":-92.4,"type":"quantitative","axis":null}}},
     {"mark":{"type":"text","text":"IAV (% yr","fontSize":23.5,"align":"left","baseline":"alphabetic","angle":270,"dx":160},
      "encoding":{"x":{"datum":-137.1,"type":"quantitative","axis":null},"y":{"datum":-92.4,"type":"quantitative","axis":null}}},
     {"mark":{"type":"text","text":"-1","fontSize":16,"align":"left","baseline":"alphabetic","angle":270,"dx":259.3,"dy":-9},
      "encoding":{"x":{"datum":-137.1,"type":"quantitative","axis":null},"y":{"datum":-92.4,"type":"quantitative","axis":null}}},
     {"mark":{"type":"text","text":")","fontSize":23.5,"align":"left","baseline":"alphabetic","angle":270,"dx":273.5},
      "encoding":{"x":{"datum":-137.1,"type":"quantitative","axis":null},"y":{"datum":-92.4,"type":"quantitative","axis":null}}}
    ]
   }
  ],
  "spacing":120,
  "bounds":"flush"
 }
]
}
